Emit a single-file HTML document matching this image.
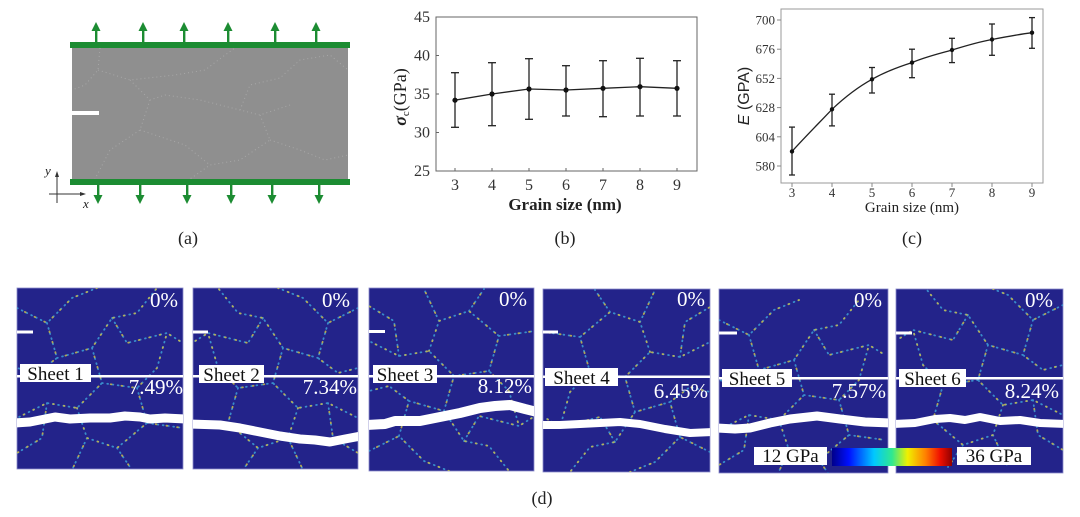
<!DOCTYPE html>
<html><head><meta charset="utf-8">
<style>
html,body{margin:0;padding:0;background:#fff;}
svg{display:block;}
text{font-family:"Liberation Serif",serif;}
</style></head>
<body>
<svg width="1080" height="517" viewBox="0 0 1080 517" xmlns="http://www.w3.org/2000/svg">
<defs>
<linearGradient id="jet" x1="0" x2="1" y1="0" y2="0">
<stop offset="0" stop-color="#00008a"/>
<stop offset="0.14" stop-color="#0010ff"/>
<stop offset="0.35" stop-color="#00c8ff"/>
<stop offset="0.5" stop-color="#30e890"/>
<stop offset="0.63" stop-color="#f0f000"/>
<stop offset="0.78" stop-color="#ff8000"/>
<stop offset="0.9" stop-color="#f01000"/>
<stop offset="1" stop-color="#900000"/>
</linearGradient>
<g id="net" fill="none" stroke-linecap="round" stroke-width="1.8">
<path stroke="#3d9fd6" stroke-opacity="0.85" stroke-dasharray="0.8 4.5" d="M0,20 L30,35 L55,10 L80,0 M30,35 L40,70 L20,85 L0,80 M40,70 L75,60 L95,30 L120,25 L140,0 M95,30 L110,55 L150,45 L166,55 M75,60 L85,95 L60,120 L30,115 L0,130 M85,95 L120,100 L140,80 L150,45 M120,100 L130,135 L100,160 L70,150 L60,120 M130,135 L166,140 M70,150 L55,182 M100,160 L115,182 M30,115 L25,150 L0,165"/>
<path stroke="#c8b84a" stroke-opacity="0.85" stroke-dasharray="0.8 10" stroke-dashoffset="2" d="M0,20 L30,35 L55,10 L80,0 M30,35 L40,70 L20,85 L0,80 M40,70 L75,60 L95,30 L120,25 L140,0 M95,30 L110,55 L150,45 L166,55 M75,60 L85,95 L60,120 L30,115 L0,130 M85,95 L120,100 L140,80 L150,45 M120,100 L130,135 L100,160 L70,150 L60,120 M130,135 L166,140 M70,150 L55,182 M100,160 L115,182 M30,115 L25,150 L0,165"/>
</g>
<clipPath id="c1"><rect x="17" y="288" width="166" height="181"/></clipPath>
<clipPath id="c2"><rect x="193" y="288" width="165" height="181"/></clipPath>
<clipPath id="c3"><rect x="369" y="288" width="165" height="183"/></clipPath>
<clipPath id="c4"><rect x="543" y="289" width="167" height="183"/></clipPath>
<clipPath id="c5"><rect x="719" y="289" width="169" height="184"/></clipPath>
<clipPath id="c6"><rect x="896" y="289" width="167" height="184"/></clipPath>
</defs>

<!-- ================= Panel (a) ================= -->
<rect x="72" y="48" width="276" height="131" fill="#8f8f8f"/>
<g fill="none" stroke="#a8a8a8" stroke-width="1" stroke-dasharray="1 3">
<path d="M100,48 L98,70 L85,85 L72,90 M98,70 L130,80 L175,75 L205,70 L225,55 L235,48 M130,80 L150,100 L165,95 L200,100 L240,110 L260,115 L290,105 M260,115 L270,140 L240,160 L210,165 L190,179 M270,140 L300,150 L325,160 L348,155 M240,110 L250,85 L280,78 L300,60 L330,55 L348,70 M150,100 L140,130 L110,150 L95,179 M140,130 L185,145 L210,165"/>
</g>
<rect x="72" y="111" width="27" height="4" fill="#ffffff"/>
<rect x="70" y="42" width="280" height="6" fill="#1c8c32"/>
<rect x="70" y="179" width="280" height="6" fill="#1c8c32"/>
<g fill="#1c8c32">
<g><rect x="95" y="30" width="2.4" height="12"/><polygon points="96,22 91.5,31 100.5,31"/></g>
<g><rect x="142" y="30" width="2.4" height="12"/><polygon points="143,22 138.5,31 147.5,31"/></g>
<g><rect x="183" y="30" width="2.4" height="12"/><polygon points="184,22 179.5,31 188.5,31"/></g>
<g><rect x="227" y="30" width="2.4" height="12"/><polygon points="228,22 223.5,31 232.5,31"/></g>
<g><rect x="274" y="30" width="2.4" height="12"/><polygon points="275,22 270.5,31 279.5,31"/></g>
<g><rect x="315" y="30" width="2.4" height="12"/><polygon points="316,22 311.5,31 320.5,31"/></g>
<g><rect x="97" y="185" width="2.4" height="11"/><polygon points="98,204 93.5,195 102.5,195"/></g>
<g><rect x="139" y="185" width="2.4" height="11"/><polygon points="140,204 135.5,195 144.5,195"/></g>
<g><rect x="186" y="185" width="2.4" height="11"/><polygon points="187,204 182.5,195 191.5,195"/></g>
<g><rect x="230" y="185" width="2.4" height="11"/><polygon points="231,204 226.5,195 235.5,195"/></g>
<g><rect x="271" y="185" width="2.4" height="11"/><polygon points="272,204 267.5,195 276.5,195"/></g>
<g><rect x="318" y="185" width="2.4" height="11"/><polygon points="319,204 314.5,195 323.5,195"/></g>
</g>
<!-- axes glyph -->
<g stroke="#333" stroke-width="1" fill="none">
<line x1="57" y1="174" x2="57" y2="203"/>
<line x1="49" y1="194" x2="83" y2="194"/>
</g>
<polygon points="57,171 55,177 59,177" fill="#333"/>
<polygon points="86,194 80,192 80,196" fill="#333"/>
<text x="45" y="175" font-size="13" font-style="italic" fill="#222">y</text>
<text x="83" y="208" font-size="13" font-style="italic" fill="#222">x</text>
<text x="188" y="244" font-size="18" text-anchor="middle" fill="#222">(a)</text>

<!-- ================= Panel (b) ================= -->
<rect x="436" y="17" width="261" height="154" fill="none" stroke="#666" stroke-width="1"/>
<g stroke="#666" stroke-width="1">
<line x1="455" y1="171" x2="455" y2="168"/><line x1="492" y1="171" x2="492" y2="168"/><line x1="529" y1="171" x2="529" y2="168"/><line x1="566" y1="171" x2="566" y2="168"/><line x1="603" y1="171" x2="603" y2="168"/><line x1="640" y1="171" x2="640" y2="168"/><line x1="677" y1="171" x2="677" y2="168"/>
<line x1="436" y1="55.5" x2="439" y2="55.5"/><line x1="436" y1="94" x2="439" y2="94"/><line x1="436" y1="132.5" x2="439" y2="132.5"/>
</g>
<g font-size="16" fill="#333" text-anchor="end">
<text x="430" y="22">45</text>
<text x="430" y="60.5">40</text>
<text x="430" y="99">35</text>
<text x="430" y="137.5">30</text>
<text x="430" y="176">25</text>
</g>
<g font-size="16" fill="#333" text-anchor="middle">
<text x="455" y="190">3</text><text x="492" y="190">4</text><text x="529" y="190">5</text><text x="566" y="190">6</text><text x="603" y="190">7</text><text x="640" y="190">8</text><text x="677" y="190">9</text>
</g>
<text x="565" y="210" font-size="17" font-weight="bold" text-anchor="middle" fill="#222">Grain size (nm)</text>
<text transform="translate(406,97) rotate(-90)" font-size="18" text-anchor="middle" fill="#222"><tspan font-weight="bold" font-style="italic">σ</tspan><tspan font-size="11" dy="3">c</tspan><tspan dy="-3">(GPa)</tspan></text>
<g stroke="#222" stroke-width="1.3" fill="none">
<polyline points="455,100.2 492,94 529,89 566,90 603,88.3 640,86.7 677,88.3"/>
<line x1="455" y1="72.7" x2="455" y2="127.3"/><line x1="451" y1="72.7" x2="459" y2="72.7"/><line x1="451" y1="127.3" x2="459" y2="127.3"/>
<line x1="492" y1="62.7" x2="492" y2="125.7"/><line x1="488" y1="62.7" x2="496" y2="62.7"/><line x1="488" y1="125.7" x2="496" y2="125.7"/>
<line x1="529" y1="58.7" x2="529" y2="119.3"/><line x1="525" y1="58.7" x2="533" y2="58.7"/><line x1="525" y1="119.3" x2="533" y2="119.3"/>
<line x1="566" y1="65.7" x2="566" y2="116"/><line x1="562" y1="65.7" x2="570" y2="65.7"/><line x1="562" y1="116" x2="570" y2="116"/>
<line x1="603" y1="60.7" x2="603" y2="116.7"/><line x1="599" y1="60.7" x2="607" y2="60.7"/><line x1="599" y1="116.7" x2="607" y2="116.7"/>
<line x1="640" y1="58.3" x2="640" y2="116"/><line x1="636" y1="58.3" x2="644" y2="58.3"/><line x1="636" y1="116" x2="644" y2="116"/>
<line x1="677" y1="60.7" x2="677" y2="116"/><line x1="673" y1="60.7" x2="681" y2="60.7"/><line x1="673" y1="116" x2="681" y2="116"/>
</g>
<g fill="#111">
<circle cx="455" cy="100.2" r="2.6"/><circle cx="492" cy="94" r="2.6"/><circle cx="529" cy="89" r="2.6"/><circle cx="566" cy="90" r="2.6"/><circle cx="603" cy="88.3" r="2.6"/><circle cx="640" cy="86.7" r="2.6"/><circle cx="677" cy="88.3" r="2.6"/>
</g>
<text x="565" y="244" font-size="18" text-anchor="middle" fill="#222">(b)</text>

<!-- ================= Panel (c) ================= -->
<rect x="781" y="9" width="262" height="174" fill="none" stroke="#999" stroke-width="1"/>
<g stroke="#888" stroke-width="1">
<line x1="777" y1="20" x2="781" y2="20"/><line x1="777" y1="49.2" x2="781" y2="49.2"/><line x1="777" y1="78.4" x2="781" y2="78.4"/><line x1="777" y1="107.6" x2="781" y2="107.6"/><line x1="777" y1="136.8" x2="781" y2="136.8"/><line x1="777" y1="166" x2="781" y2="166"/>
<line x1="792" y1="183" x2="792" y2="187"/><line x1="832" y1="183" x2="832" y2="187"/><line x1="872" y1="183" x2="872" y2="187"/><line x1="912" y1="183" x2="912" y2="187"/><line x1="952" y1="183" x2="952" y2="187"/><line x1="992" y1="183" x2="992" y2="187"/><line x1="1032" y1="183" x2="1032" y2="187"/>
</g>
<g font-size="13" fill="#333" text-anchor="end">
<text x="775" y="24.5">700</text>
<text x="775" y="53.7">676</text>
<text x="775" y="82.9">652</text>
<text x="775" y="112.1">628</text>
<text x="775" y="141.3">604</text>
<text x="775" y="170.5">580</text>
</g>
<g font-size="13" fill="#333" text-anchor="middle">
<text x="792" y="197">3</text><text x="832" y="197">4</text><text x="872" y="197">5</text><text x="912" y="197">6</text><text x="952" y="197">7</text><text x="992" y="197">8</text><text x="1032" y="197">9</text>
</g>
<text x="912" y="212" font-size="15" text-anchor="middle" fill="#222">Grain size (nm)</text>
<text transform="translate(749,96) rotate(-90)" font-size="16" text-anchor="middle" fill="#222" style="font-family:'Liberation Sans',sans-serif"><tspan font-style="italic">E</tspan> (GPA)</text>
<g stroke="#222" stroke-width="1.3" fill="none">
<path d="M792,151.4 C805,137 820,122 832,109.3 C845,97 858,87 872,79.3 C885,72 898,67 912,62.6 C925,57 938,54 952,50 C965,46 978,42 992,39.5 C1005,37 1018,34.5 1032,32.7"/>
<line x1="792" y1="127.1" x2="792" y2="175"/><line x1="789" y1="127.1" x2="795" y2="127.1"/><line x1="789" y1="175" x2="795" y2="175"/>
<line x1="832" y1="94.2" x2="832" y2="125.9"/><line x1="829" y1="94.2" x2="835" y2="94.2"/><line x1="829" y1="125.9" x2="835" y2="125.9"/>
<line x1="872" y1="67.5" x2="872" y2="93"/><line x1="869" y1="67.5" x2="875" y2="67.5"/><line x1="869" y1="93" x2="875" y2="93"/>
<line x1="912" y1="49.2" x2="912" y2="77.7"/><line x1="909" y1="49.2" x2="915" y2="49.2"/><line x1="909" y1="77.7" x2="915" y2="77.7"/>
<line x1="952" y1="38.3" x2="952" y2="62.6"/><line x1="949" y1="38.3" x2="955" y2="38.3"/><line x1="949" y1="62.6" x2="955" y2="62.6"/>
<line x1="992" y1="24" x2="992" y2="55.3"/><line x1="989" y1="24" x2="995" y2="24"/><line x1="989" y1="55.3" x2="995" y2="55.3"/>
<line x1="1032" y1="17.6" x2="1032" y2="48.3"/><line x1="1029" y1="17.6" x2="1035" y2="17.6"/><line x1="1029" y1="48.3" x2="1035" y2="48.3"/>
</g>
<g fill="#111">
<circle cx="792" cy="151.4" r="2.2"/><circle cx="832" cy="109.3" r="2.2"/><circle cx="872" cy="79.3" r="2.2"/><circle cx="912" cy="62.6" r="2.2"/><circle cx="952" cy="50" r="2.2"/><circle cx="992" cy="39.5" r="2.2"/><circle cx="1032" cy="32.7" r="2.2"/>
</g>
<text x="912" y="244" font-size="18" text-anchor="middle" fill="#222">(c)</text>

<!-- ================= Panel (d) ================= -->
<g fill="#23238a" stroke="#8c8ccc" stroke-width="0.8">
<rect x="17" y="288" width="166" height="181"/>
<rect x="193" y="288" width="165" height="181"/>
<rect x="369" y="288" width="165" height="183"/>
<rect x="543" y="289" width="167" height="183"/>
<rect x="719" y="289" width="169" height="184"/>
<rect x="896" y="289" width="167" height="184"/>
</g>
<g clip-path="url(#c1)"><use href="#net" transform="translate(17,288)"/></g>
<g clip-path="url(#c2)"><use href="#net" transform="translate(358,288) scale(-1,1)"/></g>
<g clip-path="url(#c3)"><use href="#net" transform="translate(369,471) scale(1,-1)"/></g>
<g clip-path="url(#c4)"><use href="#net" transform="translate(710,472) scale(-1,-1)"/></g>
<g clip-path="url(#c5)"><use href="#net" transform="translate(719,300)"/></g>
<g clip-path="url(#c6)"><use href="#net" transform="translate(1063,285) scale(-1,1)"/></g>

<g fill="#ffffff">
<rect x="17" y="375" width="166" height="2.5"/>
<rect x="193" y="375" width="165" height="2.5"/>
<rect x="369" y="375" width="165" height="2.5"/>
<rect x="543" y="375.5" width="167" height="2.5"/>
<rect x="719" y="377" width="169" height="2.5"/>
<rect x="896" y="377" width="167" height="2.5"/>
</g>
<g fill="#ffffff">
<rect x="17" y="330.5" width="16" height="3"/>
<rect x="193" y="330.5" width="15" height="3"/>
<rect x="369" y="330" width="16" height="3"/>
<rect x="543" y="330.5" width="15" height="3"/>
<rect x="719" y="331.5" width="18" height="3"/>
<rect x="896" y="331.5" width="16" height="3"/>
</g>
<g fill="none" stroke="#ffffff" stroke-linejoin="bevel">
<g clip-path="url(#c1)"><polyline stroke-width="9" points="14,423 30,422 45,419 55,417 70,419 90,418 110,418 125,416 140,417 150,419 165,418 186,419"/></g>
<g clip-path="url(#c2)"><polyline stroke-width="9" points="190,424 220,425 240,428 260,432 280,436 300,439 315,440 330,442 345,439 361,436"/></g>
<g clip-path="url(#c3)"><polyline stroke-width="10" points="366,425 385,424 395,421 420,421 435,418 460,413 480,408 495,406 510,405 525,409 537,412"/></g>
<g clip-path="url(#c4)"><polyline stroke-width="8" points="540,425 560,425 600,423 620,422 640,424 665,429 690,433 713,432"/></g>
<g clip-path="url(#c5)"><polyline stroke-width="9" points="716,428 735,429 750,428 770,423 790,419 817,416 840,419 865,422 891,423"/></g>
<g clip-path="url(#c6)"><polyline stroke-width="8" points="893,424 915,423 935,419 950,418 965,420 980,417 1000,421 1020,420 1040,423 1066,424"/></g>
</g>
<g font-size="21" fill="#ffffff" text-anchor="end">
<text x="178" y="307">0%</text><text x="183" y="394">7.49%</text>
<text x="350" y="307">0%</text><text x="357" y="394">7.34%</text>
<text x="527" y="306">0%</text><text x="532" y="393">8.12%</text>
<text x="705" y="306">0%</text><text x="708" y="398">6.45%</text>
<text x="882" y="307">0%</text><text x="886" y="398">7.57%</text>
<text x="1053" y="307">0%</text><text x="1059" y="398">8.24%</text>
</g>
<g fill="#ffffff">
<rect x="20" y="364" width="71" height="18"/>
<rect x="199" y="365" width="65" height="18"/>
<rect x="373" y="365" width="64" height="18"/>
<rect x="545" y="368" width="73" height="18"/>
<rect x="722" y="369" width="70" height="18"/>
<rect x="899" y="369" width="67" height="18"/>
</g>
<g font-size="19" fill="#111" text-anchor="middle">
<text x="55.5" y="380">Sheet 1</text>
<text x="231.5" y="381">Sheet 2</text>
<text x="405" y="381">Sheet 3</text>
<text x="581.5" y="384">Sheet 4</text>
<text x="757" y="385">Sheet 5</text>
<text x="932.5" y="385">Sheet 6</text>
</g>
<rect x="754" y="447" width="73" height="18" fill="#ffffff"/>
<text x="790.5" y="462" font-size="19" text-anchor="middle" fill="#111">12 GPa</text>
<rect x="832" y="448" width="120" height="18" fill="url(#jet)"/>
<rect x="957" y="447" width="74" height="18" fill="#ffffff"/>
<text x="994" y="462" font-size="19" text-anchor="middle" fill="#111">36 GPa</text>

<text x="542" y="504" font-size="18" text-anchor="middle" fill="#222">(d)</text>
</svg>
</body></html>
